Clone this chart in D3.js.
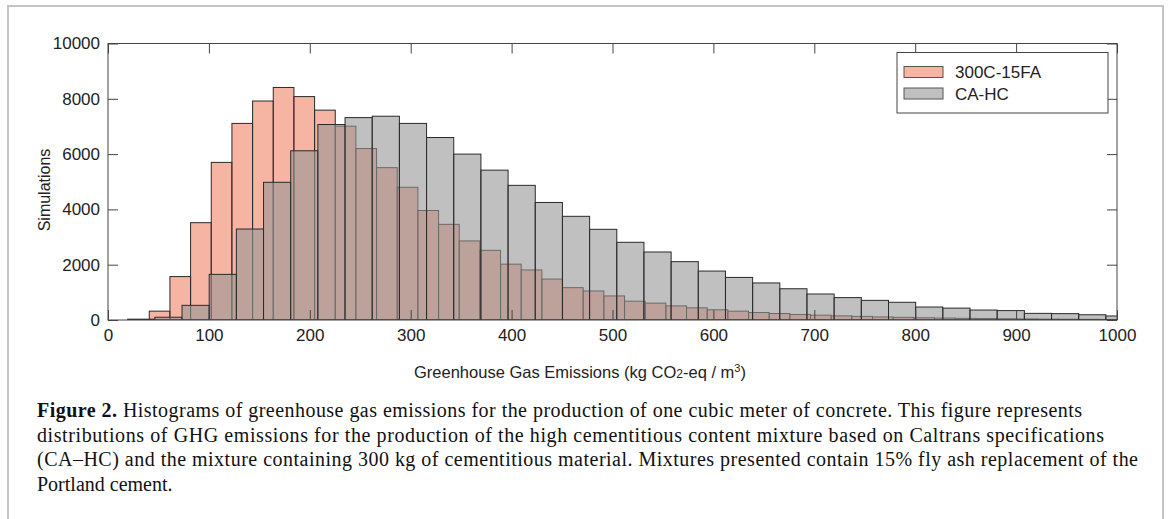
<!DOCTYPE html>
<html>
<head>
<meta charset="utf-8">
<script src="https://cdn.jsdelivr.net/npm/d3@7"></script>
<style>
  body { margin: 0; background: #fff; }
  text { font-family: "Liberation Sans", Arial, sans-serif; fill: #222; }
  .caption text { font-family: "Liberation Serif", "Times New Roman", serif; fill: #111; }
</style>
</head>
<body>
<div id="chart"></div>
<script>
// Histograms of GHG emissions per m3 of concrete

// Data
//=================================
var seriesNames = ["300C-15FA", "CA-HC"];

// 300C-15FA: bins start at 40.9, width 20.48
var binStartFA = 40.9;
var binWidthFA = 20.48;
var countsFA = [320, 1570, 3520, 5700, 7110, 7920, 8410, 8080, 7590, 7010,
  6200, 5510, 4800, 3960, 3460, 2860, 2520, 2020, 1810, 1480,
  1170, 1050, 870, 680, 610, 510, 440, 370, 320, 270,
  235, 200, 175, 150, 130, 110, 95, 80, 70, 60,
  52, 45, 38, 32, 28, 24, 20];

// CA-HC: bins start at 19.5, width 26.93
var binStartHC = 19.5;
var binWidthHC = 26.93;
var countsHC = [30, 100, 530, 1650, 3290, 4980, 6120, 7070, 7320, 7370,
  7110, 6600, 6000, 5420, 4870, 4250, 3750, 3280, 2810, 2460,
  2110, 1770, 1540, 1340, 1130, 940, 810, 710, 640, 470,
  430, 360, 340, 240, 230, 190, 145];

var xTicks = [0, 100, 200, 300, 400, 500, 600, 700, 800, 900, 1000];
var yTicks = [0, 2000, 4000, 6000, 8000, 10000];

// Chart setup
//=================================
var svgWidth = 1168;
var svgHeight = 519;

var margin = { top: 43.5, right: 51, bottom: 199, left: 108 };
var width = svgWidth - margin.left - margin.right;
var height = svgHeight - margin.top - margin.bottom;

var svg = d3.select("#chart")
  .append("svg")
  .attr("width", svgWidth)
  .attr("height", svgHeight);

// outer frame of the figure
svg.append("rect")
  .attr("x", 8).attr("y", 6)
  .attr("width", 1155).attr("height", 530)
  .attr("fill", "none")
  .attr("stroke", "#c4c4c4")
  .attr("stroke-width", 2);

var g = svg.append("g")
  .attr("transform", `translate(${margin.left}, ${margin.top})`);

var x = d3.scaleLinear().domain([0, 1000]).range([0, width]);
var y = d3.scaleLinear().domain([0, 10000]).range([height, 0]);

g.append("clipPath").attr("id", "plotClip")
  .append("rect").attr("width", width).attr("height", height);

// build bins from the arrays
function makeBins(start, w, counts) {
  return counts.map((c, i) => ({ x0: start + i * w, x1: start + (i + 1) * w, count: c }));
}
var binsFA = makeBins(binStartFA, binWidthFA, countsFA);
var binsHC = makeBins(binStartHC, binWidthHC, countsHC);

var bars = g.append("g").attr("clip-path", "url(#plotClip)");

function drawBars(data, fill, cls) {
  bars.selectAll("rect." + cls)
    .data(data)
    .enter()
    .append("rect")
    .attr("class", cls)
    .attr("x", d => x(d.x0))
    .attr("y", d => y(d.count))
    .attr("width", d => x(d.x1) - x(d.x0))
    .attr("height", d => y(0) - y(d.count))
    .attr("fill", fill)
    .attr("fill-opacity", 0.6)
    .attr("stroke", "#2a2a2a")
    .attr("stroke-width", 1);
}
drawBars(binsFA, "rgb(240,130,100)", "fa");
drawBars(binsHC, "rgb(150,150,150)", "hc");

// Axes (MATLAB style box, ticks inward)
//=================================
var tickLen = 10;
var axisColor = "#444";
var fmt = d3.format("d");

var xAxis = g.append("g")
  .attr("transform", `translate(0, ${height})`)
  .call(d3.axisBottom(x).tickValues(xTicks).tickFormat(fmt).tickSizeInner(-tickLen).tickSizeOuter(0).tickPadding(9));
var xAxisTop = g.append("g")
  .call(d3.axisTop(x).tickValues(xTicks).tickSizeInner(-tickLen).tickSizeOuter(0).tickFormat(""));
var yAxis = g.append("g")
  .call(d3.axisLeft(y).tickValues(yTicks).tickFormat(fmt).tickSizeInner(-tickLen).tickSizeOuter(0).tickPadding(8));
var yAxisRight = g.append("g")
  .attr("transform", `translate(${width}, 0)`)
  .call(d3.axisRight(y).tickValues(yTicks).tickSizeInner(-tickLen).tickSizeOuter(0).tickFormat(""));

[xAxis, xAxisTop, yAxis, yAxisRight].forEach(function(a) {
  a.select(".domain").remove();
  a.selectAll("line").attr("stroke", axisColor).attr("stroke-width", 1);
  a.selectAll("text").attr("font-size", 17).attr("fill", "#222")
    .style("font-family", "'Liberation Sans', Arial, sans-serif");
});

g.append("rect")
  .attr("width", width).attr("height", height)
  .attr("fill", "none")
  .attr("stroke", axisColor)
  .attr("stroke-width", 1);

// axis labels
var xLabel = g.append("text")
  .attr("x", 414 - margin.left)
  .attr("y", height + 58)
  .attr("text-anchor", "start")
  .attr("font-size", 16.5);
xLabel.append("tspan").text("Greenhouse Gas Emissions (kg CO");
xLabel.append("tspan").attr("font-size", 12).text("2");
xLabel.append("tspan").text("-eq / m");
xLabel.append("tspan").attr("font-size", 11).attr("dy", -6).text("3");
xLabel.append("tspan").attr("dy", 6).text(")");

g.append("text")
  .attr("transform", "rotate(-90)")
  .attr("x", -(190 - margin.top))
  .attr("y", -58)
  .attr("text-anchor", "middle")
  .attr("font-size", 16)
  .text("Simulations");

// Legend
//=================================
var legend = g.append("g").attr("transform", `translate(${x(0) + 789}, 9)`);
legend.append("rect")
  .attr("width", 211).attr("height", 60.5)
  .attr("fill", "#fff")
  .attr("stroke", axisColor)
  .attr("stroke-width", 1);

var legendFills = ["rgb(240,130,100)", "rgb(150,150,150)"];
seriesNames.forEach(function(name, i) {
  var row = legend.append("g").attr("transform", `translate(7, ${14 + i * 21.5})`);
  row.append("rect")
    .attr("width", 39).attr("height", 11)
    .attr("fill", legendFills[i]).attr("fill-opacity", 0.6)
    .attr("stroke", "#555").attr("stroke-width", 1);
  row.append("text")
    .attr("x", 51).attr("y", 6)
    .attr("dy", "0.35em")
    .attr("font-size", 17)
    .text(name);
});

// Caption
//=================================
var capLines = [
  { bold: "Figure 2.", rest: " Histograms of greenhouse gas emissions for the production of one cubic meter of concrete. This figure represents", w: 1045 },
  { bold: "", rest: "distributions of GHG emissions for the production of the high cementitious content mixture based on Caltrans specifications", w: 1067 },
  { bold: "", rest: "(CA\u2013HC) and the mixture containing 300 kg of cementitious material. Mixtures presented contain 15% fly ash replacement of the", w: 1101 },
  { bold: "", rest: "Portland cement.", w: null }
];
var caption = svg.append("g").attr("class", "caption");
capLines.forEach(function(line, i) {
  var t = caption.append("text")
    .attr("x", 37)
    .attr("y", 417 + i * 24.5)
    .attr("font-size", 20);
  if (line.w) t.attr("textLength", line.w).attr("lengthAdjust", "spacing");
  if (line.bold) t.append("tspan").attr("font-weight", "bold").text(line.bold);
  t.append("tspan").text(line.rest);
});
</script>
</body>
</html>
